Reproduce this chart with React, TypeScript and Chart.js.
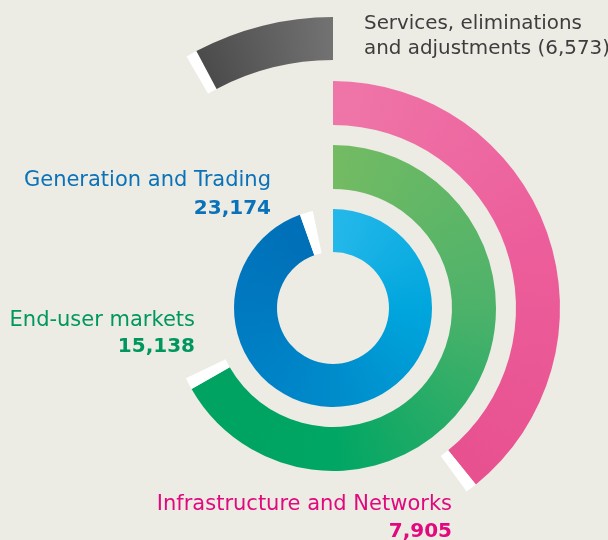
import React, { useEffect, useRef } from "react";
import { Chart, registerables } from "chart.js";

Chart.register(...registerables);

// ---- data (outermost ring first) ----
const segments = [
  "Services, eliminations and adjustments",
  "Infrastructure and Networks",
  "End-user markets",
  "Generation and Trading",
];
const values = [-6573, 7905, 15138, 23174];
const valueLabels = ["(6,573)", "7,905", "15,138", "23,174"];
// sweep of each arc in degrees (negative = counter-clockwise)
const arcDegrees = [-28, 141, 240.2, 340.5];

// ---- styling ----
const OUTER_R = 291;
const INNER_R = 56;
const ringThickness = [43, 44, 44, 43];
const ringGaps = [21, 20, 20];
const CAP_PX = 10.5;
const BG = "#ECEBE4";
const ringStops: [number, string][][] = [
  [[0, "#727272"], [0.9, "#404040"], [0.999, "#727272"]],
  [[0, "#EF76A8"], [0.2, "#EC5E9B"], [0.4, "#E8508F"], [1, "#E8508F"]],
  [[0, "#74BB63"], [0.25, "#4DB26A"], [0.5, "#00A664"], [0.7, "#00A260"], [1, "#00A260"]],
  [[0, "#25B8EA"], [0.25, "#00A6DD"], [0.5, "#008BCB"], [0.75, "#0079C0"], [0.95, "#006FB7"], [1, "#25B8EA"]],
];
const textColors = ["#3D3D3D", "#E2087E", "#00975F", "#0A72B9"];

function ringMidRadii(): number[] {
  const mids: number[] = [];
  let r = OUTER_R;
  for (let i = 0; i < ringThickness.length; i++) {
    mids.push(r - ringThickness[i] / 2);
    r -= ringThickness[i] + (ringGaps[i] || 0);
  }
  return mids;
}

function Label(props: {
  text: string;
  x: number;
  baseline: number;
  align: "left" | "right";
  bold?: boolean;
  color: string;
  size: number;
}) {
  const L = 26;
  const F = props.size;
  const top = props.baseline - ((L - 1.164 * F) / 2 + 0.928 * F);
  const style: React.CSSProperties = {
    position: "absolute",
    top,
    fontFamily: '"DejaVu Sans", sans-serif',
    fontSize: F,
    lineHeight: L + "px",
    fontWeight: props.bold ? 700 : 400,
    color: props.color,
    whiteSpace: "nowrap",
    textAlign: props.align,
  };
  if (props.align === "left") style.left = props.x;
  else style.right = 608 - props.x;
  return <div style={style}>{props.text}</div>;
}

export default function App() {
  const ref = useRef<HTMLCanvasElement | null>(null);

  useEffect(() => {
    const canvas = ref.current;
    if (!canvas) return;
    const mids = ringMidRadii();
    const datasets: any[] = [];
    arcDegrees.forEach((deg, i) => {
      const cap = (CAP_PX / mids[i]) * (180 / Math.PI);
      const sweep = Math.abs(deg);
      const rest = 360 - sweep - cap;
      const data = deg >= 0 ? [sweep, cap, rest] : [rest, cap, sweep];
      const arcIndex = deg >= 0 ? 0 : 2;
      datasets.push({
        label: segments[i],
        data,
        weight: ringThickness[i],
        borderWidth: 0,
        hoverOffset: 0,
        clip: false,
        backgroundColor: (c: any) => {
          if (c.dataIndex === 1) return "#FFFFFF";
          if (c.dataIndex !== arcIndex) return "rgba(0,0,0,0)";
          const chart = c.chart;
          const area = chart.chartArea;
          if (!area) return ringStops[i][0][1];
          const cx = (area.left + area.right) / 2;
          const cy = (area.top + area.bottom) / 2;
          const g = chart.ctx.createConicGradient(-Math.PI / 2, cx, cy);
          ringStops[i].forEach(([p, col]) => g.addColorStop(p, col));
          return g;
        },
      });
      if (i < ringGaps.length) {
        datasets.push({
          label: "",
          data: [1],
          weight: ringGaps[i],
          borderWidth: 0,
          hoverOffset: 0,
          backgroundColor: "rgba(0,0,0,0)",
        });
      }
    });

    const chart = new Chart(canvas, {
      type: "doughnut",
      data: { labels: ["arc", "cap", "rest"], datasets },
      options: {
        responsive: false,
        animation: false,
        radius: OUTER_R,
        cutout: (INNER_R / OUTER_R) * 100 + "%",
        rotation: 0,
        circumference: 360,
        layout: { padding: { left: 58, right: 0, top: 76, bottom: 0 } },
        events: [],
        plugins: { legend: { display: false }, tooltip: { enabled: false } },
      } as any,
    });
    return () => chart.destroy();
  }, []);

  return (
    <div
      style={{
        position: "fixed",
        left: 0,
        top: 0,
        width: 608,
        height: 540,
        background: BG,
        overflow: "hidden",
      }}
    >
      <canvas
        ref={ref}
        width={608}
        height={540}
        style={{ position: "absolute", left: 0, top: 0, width: 608, height: 540 }}
      />
      <Label text="Services, eliminations" x={364} baseline={29.5} align="left" color={textColors[0]} size={19.9} />
      <Label text={"and adjustments " + valueLabels[0]} x={364} baseline={54.5} align="left" color={textColors[0]} size={19.9} />
      <Label text={segments[3]} x={271} baseline={186.7} align="right" color={textColors[3]} size={21} />
      <Label text={valueLabels[3]} x={271} baseline={214} align="right" bold color={textColors[3]} size={20} />
      <Label text={segments[2]} x={195} baseline={326.7} align="right" color={textColors[2]} size={21} />
      <Label text={valueLabels[2]} x={195} baseline={351.7} align="right" bold color={textColors[2]} size={20} />
      <Label text={segments[1]} x={452} baseline={510.7} align="right" color={textColors[1]} size={21} />
      <Label text={valueLabels[1]} x={452} baseline={537} align="right" bold color={textColors[1]} size={20} />
    </div>
  );
}
